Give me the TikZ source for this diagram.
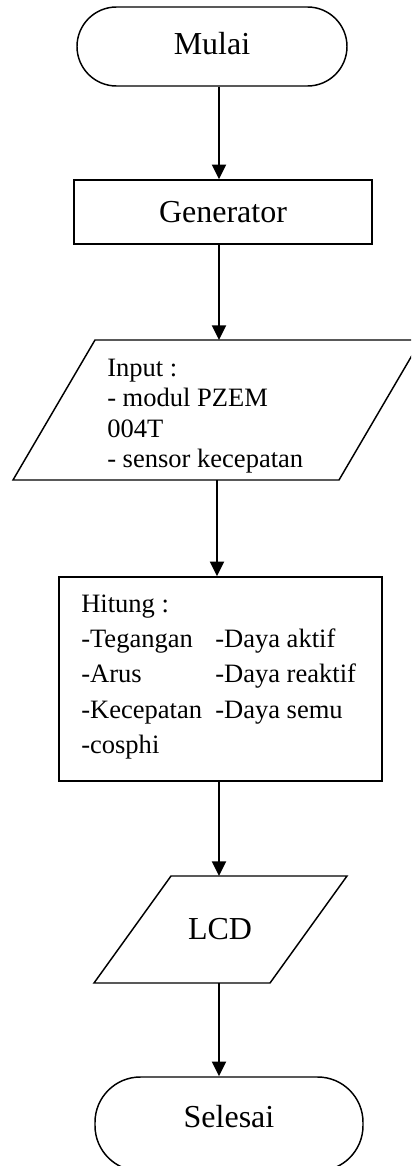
\documentclass[tikz,border=0pt]{standalone}
\usepackage{fontspec}
\setmainfont{Liberation Serif}
\usetikzlibrary{arrows.meta}
\tikzset{
  box/.style={draw, line width=1.1pt, inner sep=0pt},
  term/.style={box, rounded corners=#1},
  bigtxt/.style={font=\fontsize{24}{28}\selectfont},
  smalltxt/.style={font=\fontsize{19.9}{23}\selectfont, inner sep=0pt, anchor=base west},
  arr/.style={line width=1.5pt, -{Triangle[length=11pt,width=10.5pt]}},
  shapeline/.style={line width=1.1pt, line join=miter}
}
\begin{document}
\begin{tikzpicture}[x=0.75pt,y=-0.75pt]
\useasboundingbox (0,0) rectangle (411,1166);
\clip (0,0) rectangle (411,1166);
\fill[white] (0,0) rectangle (411,1166);

% connector x positions
\coordinate (ax) at (219,0);
\coordinate (ax3) at (217,0);

% Mulai
\node[term=29.6pt, bigtxt, minimum width=202.5pt, minimum height=59.25pt, text depth=4.5pt] (mulai) at (212,46.5) {Mulai};

% Generator
\node[box, bigtxt, minimum width=223.5pt, minimum height=48pt] (gen) at (223,212) {Generator};

% Input parallelogram
\coordinate (inTL) at (95,340);
\coordinate (inTR) at (421,340);
\coordinate (inBR) at (339,480);
\coordinate (inBL) at (13,480);
\draw[shapeline] (inTL) -- (inTR) -- (inBR) -- (inBL) -- cycle;
\node[smalltxt] (in1) at (107,376) {Input :};
\node[smalltxt] (in2) at (107,406) {- modul PZEM};
\node[smalltxt] (in3) at (107,437) {004T};
\node[smalltxt] (in4) at (107,467) {- sensor kecepatan};

% Hitung box
\node[box, minimum width=242.25pt, minimum height=153pt] (hit) at (220.5,679) {};
\node[smalltxt] (h0) at (81,612) {Hitung :};
\node[smalltxt] (h1) at (81,647) {-Tegangan};
\node[smalltxt] (h2) at (81,682) {-Arus};
\node[smalltxt] (h3) at (81,718) {-Kecepatan};
\node[smalltxt] (h4) at (81,753) {-cosphi};
\node[smalltxt] (h5) at (215,647) {-Daya aktif};
\node[smalltxt] (h6) at (215,682) {-Daya reaktif};
\node[smalltxt] (h7) at (215,718) {-Daya semu};

% LCD parallelogram
\coordinate (lTL) at (171,876);
\coordinate (lTR) at (347,876);
\coordinate (lBR) at (270,983);
\coordinate (lBL) at (94,983);
\draw[shapeline] (lTL) -- (lTR) -- (lBR) -- (lBL) -- cycle;
\node[bigtxt, inner sep=0pt, anchor=base] (lcd) at (220,939) {LCD};

% Selesai
\node[term=34pt, bigtxt, minimum width=201pt, minimum height=70.5pt, text depth=12pt] (selesai) at (229,1124) {Selesai};

% connectors
\draw[arr] (ax |- mulai.south) -- (ax |- gen.north);
\draw[arr] (ax |- gen.south) -- (ax |- inTL);
\draw[arr] (ax3 |- inBL) -- (ax3 |- hit.north);
\draw[arr] (ax |- hit.south) -- (ax |- lTL);
\draw[arr] (ax |- lBL) -- (ax |- selesai.north);
\end{tikzpicture}
\end{document}
